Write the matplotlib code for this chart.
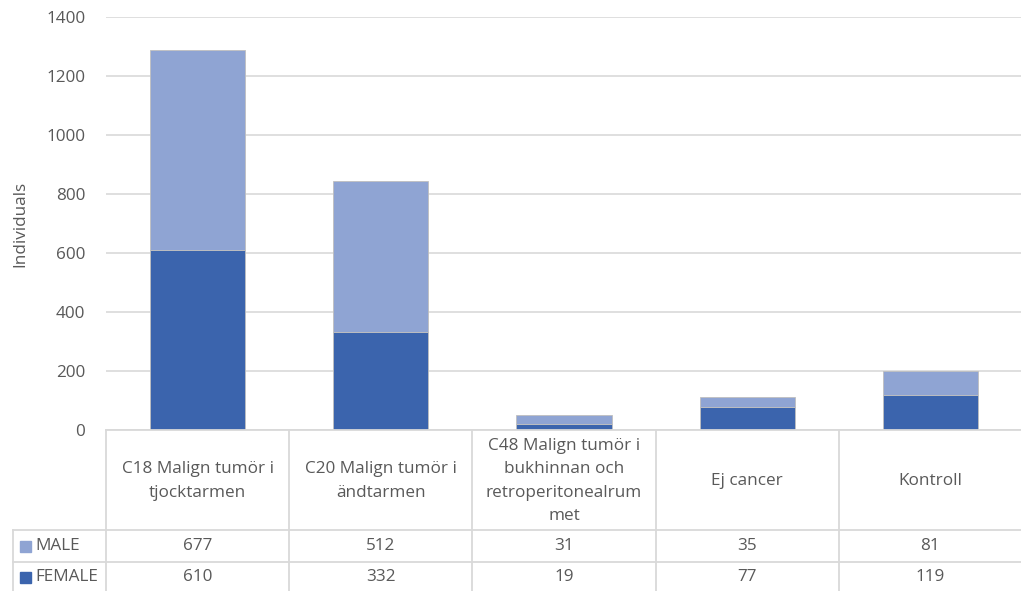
import matplotlib.pyplot as plt
from matplotlib.lines import Line2D

categories = ["C18 Malign tumör i\ntjocktarmen", "C20 Malign tumör i\nändtarmen",
              "C48 Malign tumör i\nbukhinnan och\nretroperitonealrum\nmet", "Ej cancer", "Kontroll"]
male = [677, 512, 31, 35, 81]
female = [610, 332, 19, 77, 119]
yticks = [0, 200, 400, 600, 800, 1000, 1200, 1400]

C_F = "#3B64AD"
C_M = "#8FA4D3"
GRID = "#D9D9D9"
TXT = "#595959"
FS = 12.3
plt.rcParams['font.family'] = ['Open Sans', 'DejaVu Sans']

W, H = 1021, 591
fig = plt.figure(figsize=(W/100, H/100), dpi=100)
x0, x1 = 106, 1022
ytop, ybot = 17, 430
ax = fig.add_axes([x0/W, 1-ybot/H, (x1-x0)/W, (ybot-ytop)/H])
n = len(categories)
xs = list(range(n))
ax.bar(xs, female, width=0.52, color=C_F, edgecolor="#BFBFBF", linewidth=0.6, zorder=3)
ax.bar(xs, male, bottom=female, width=0.52, color=C_M, edgecolor="#BFBFBF", linewidth=0.6, zorder=3)
ax.set_xlim(-0.5, n-0.5)
ax.set_ylim(0, 1400)
ax.set_yticks(yticks)
ax.set_yticklabels([str(v) for v in yticks], fontsize=FS, color=TXT)
ax.tick_params(axis='y', length=0, pad=15)
ax.set_xticks([])
ax.grid(axis='y', color=GRID, linewidth=1.2, zorder=0)
for s in ax.spines.values():
    s.set_visible(False)
ax.set_ylabel("Individuals", fontsize=FS, color=TXT, labelpad=13)

def fx(px):
    return px / W
def fy(py):
    return 1 - py / H

colw = (x1 - x0) / n
edges = [x0 + i*colw for i in range(n+1)]
lw = 1.3
def line(xa, ya, xb, yb):
    fig.add_artist(Line2D([fx(xa), fx(xb)], [fy(ya), fy(yb)], color=GRID, linewidth=lw,
                          transform=fig.transFigure))
r0, r1, r2, r3 = 430, 530, 562, 592
line(x0, r0, x1, r0)
line(13, r1, x1, r1)
line(13, r2, x1, r2)
line(13, r3, x1, r3)
line(13, r1, 13, r3)
for e in edges:
    line(e, r0, e, r3)

for i, c in enumerate(categories):
    cx = edges[i] + colw/2
    fig.text(fx(cx), fy((r0+r1)/2 + 1), c, ha='center', va='center', fontsize=FS,
             color=TXT, linespacing=1.6)
    fig.text(fx(cx), fy((r1+r2)/2), str(male[i]), ha='center', va='center', fontsize=FS, color=TXT)
    fig.text(fx(cx), fy((r2+r3)/2), str(female[i]), ha='center', va='center', fontsize=FS, color=TXT)

for (label, col, ra, rb) in [("MALE", C_M, r1, r2), ("FEMALE", C_F, r2, r3)]:
    ym = (ra + rb) / 2
    fig.patches.append(plt.Rectangle((fx(20), fy(ym+5.5)), 11/W, 11/H, color=col,
                                     transform=fig.transFigure, figure=fig))
    fig.text(fx(35), fy(ym), label, ha='left', va='center', fontsize=FS, color=TXT)

fig.savefig("out.png", dpi=100)
